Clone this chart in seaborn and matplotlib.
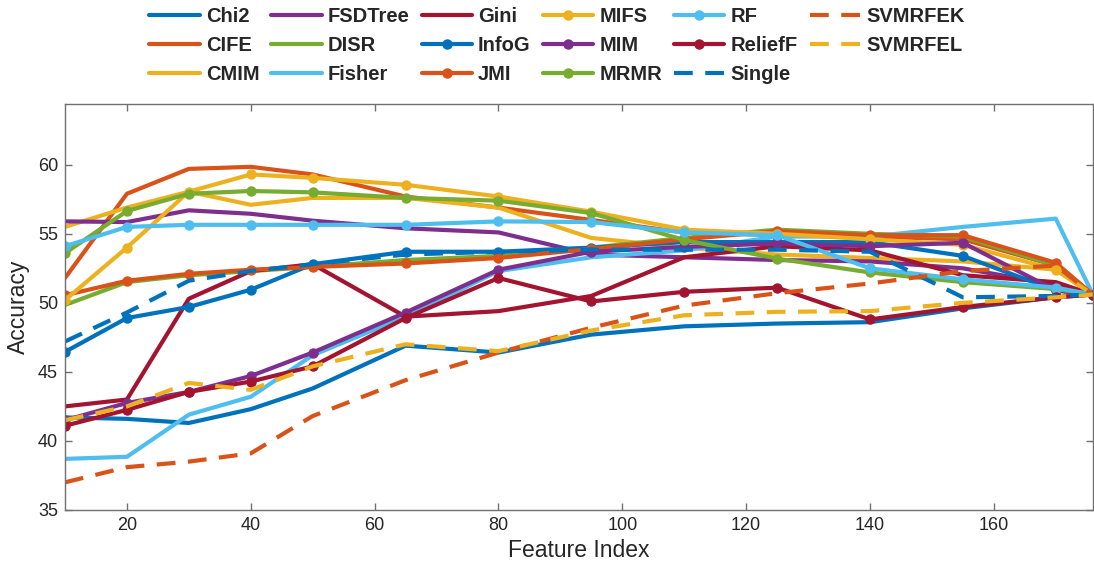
import matplotlib
matplotlib.use("Agg")
import matplotlib.pyplot as plt
import seaborn as sns
import pandas as pd

# Number of selected features at each evaluation step
feature_index = [10, 20, 30, 40, 50, 65, 80, 95, 110, 125, 140, 155, 170, 176]

# Classification accuracy (%) of each feature-selection method
chi2     = [41.7, 41.6, 41.3, 42.3, 43.8, 46.9, 46.4, 47.7, 48.3, 48.5, 48.6, 49.6, 50.4, 50.6]
cife     = [51.8, 57.9, 59.7, 59.85, 59.3, 57.7, 56.9, 56.0, 55.1, 54.9, 54.8, 54.6, 52.7, 50.6]
cmim     = [55.5, 56.9, 58.05, 57.1, 57.6, 57.6, 56.9, 54.7, 54.0, 53.5, 53.25, 53.0, 52.4, 50.6]
fsdtree  = [55.9, 55.85, 56.7, 56.45, 55.95, 55.4, 55.1, 53.5, 53.3, 53.1, 53.0, 52.5, 51.3, 50.6]
disr     = [49.85, 51.5, 52.0, 52.3, 52.6, 53.1, 53.4, 54.0, 54.7, 55.3, 55.0, 54.8, 52.7, 50.6]
fisher   = [38.7, 38.85, 41.9, 43.2, 46.2, 49.0, 52.3, 53.3, 53.8, 54.8, 54.8, 55.5, 56.1, 50.6]
gini     = [42.5, 43.0, 50.3, 52.3, 52.8, 49.0, 49.4, 50.5, 53.3, 54.1, 53.8, 52.0, 51.5, 50.6]
infog    = [46.45, 48.9, 49.7, 50.95, 52.8, 53.7, 53.7, 54.0, 54.4, 54.4, 54.4, 53.4, 50.9, 50.6]
jmi      = [50.55, 51.6, 52.1, 52.4, 52.6, 52.85, 53.25, 53.9, 54.6, 55.2, 54.9, 54.9, 52.9, 50.6]
mifs     = [50.2, 54.0, 58.05, 59.3, 59.05, 58.55, 57.7, 56.6, 55.3, 55.0, 54.6, 54.2, 52.4, 50.6]
mim      = [41.5, 42.75, 43.55, 44.7, 46.4, 49.3, 52.4, 53.7, 54.05, 54.3, 54.1, 54.35, 50.9, 50.6]
mrmr     = [53.6, 56.65, 57.9, 58.1, 58.0, 57.6, 57.4, 56.5, 54.55, 53.2, 52.2, 51.5, 51.0, 50.6]
rf       = [54.1, 55.5, 55.65, 55.65, 55.65, 55.65, 55.9, 55.85, 55.1, 54.9, 52.5, 51.7, 51.1, 50.6]
relieff  = [41.1, 42.25, 43.55, 44.3, 45.4, 48.9, 51.8, 50.1, 50.8, 51.1, 48.8, 49.7, 50.4, 50.6]
single   = [47.2, 49.3, 51.6, 52.3, 52.8, 53.5, 53.7, 53.85, 53.85, 53.85, 53.7, 50.4, 50.5, 50.6]
svmrfek  = [37.0, 38.1, 38.5, 39.1, 41.8, 44.4, 46.4, 48.2, 49.8, 50.7, 51.4, 52.3, 52.7, 50.6]
svmrfel  = [41.5, 42.5, 44.2, 43.7, 45.4, 47.0, 46.5, 48.0, 49.1, 49.35, 49.4, 50.0, 50.4, 50.6]

method_names = ["Chi2", "CIFE", "CMIM", "FSDTree", "DISR", "Fisher", "Gini", "InfoG",
                "JMI", "MIFS", "MIM", "MRMR", "RF", "ReliefF", "Single", "SVMRFEK", "SVMRFEL"]
method_values = [chi2, cife, cmim, fsdtree, disr, fisher, gini, infog,
                 jmi, mifs, mim, mrmr, rf, relieff, single, svmrfek, svmrfel]

# MATLAB-like default colour order
blue, orange, yellow, purple = "#0072BD", "#D95319", "#EDB120", "#7E2F8E"
green, cyan, red = "#77AC30", "#4DBEEE", "#A2142F"

styles = {
    "Chi2":    (blue,   None, "solid"),
    "CIFE":    (orange, None, "solid"),
    "CMIM":    (yellow, None, "solid"),
    "FSDTree": (purple, None, "solid"),
    "DISR":    (green,  None, "solid"),
    "Fisher":  (cyan,   None, "solid"),
    "Gini":    (red,    None, "solid"),
    "InfoG":   (blue,   "o",  "solid"),
    "JMI":     (orange, "o",  "solid"),
    "MIFS":    (yellow, "o",  "solid"),
    "MIM":     (purple, "o",  "solid"),
    "MRMR":    (green,  "o",  "solid"),
    "RF":      (cyan,   "o",  "solid"),
    "ReliefF": (red,    "o",  "solid"),
    "Single":  (blue,   None, "dashed"),
    "SVMRFEK": (orange, None, "dashed"),
    "SVMRFEL": (yellow, None, "dashed"),
}

sns.set_style("ticks")
plt.rcParams["font.family"] = ["Liberation Sans", "DejaVu Sans"]

fig = plt.figure(figsize=(10.94, 5.73), dpi=100)
ax = fig.add_axes([0.0594, 0.110, 0.9396, 0.7085])

for name, vals in zip(method_names, method_values):
    color, marker, ls = styles[name]
    df = pd.DataFrame({"Feature Index": feature_index, "Accuracy": vals})
    sns.lineplot(data=df, x="Feature Index", y="Accuracy", ax=ax, color=color,
                 marker=marker, markersize=7.5, markeredgewidth=0,
                 linewidth=3.0, label=name, sort=False)
    line = ax.lines[-1]
    if ls == "dashed":
        line.set_dashes((4.5, 3.0))

ax.set_xlim(10, 176)
ax.set_ylim(35, 64.4)
ax.set_xticks([20, 40, 60, 80, 100, 120, 140, 160])
ax.set_yticks([35, 40, 45, 50, 55, 60])

spine_color = "#707070"
for s in ax.spines.values():
    s.set_visible(True)
    s.set_color(spine_color)
    s.set_linewidth(1.0)
ax.tick_params(direction="in", length=5, width=1, color=spine_color,
               top=True, right=True, labelsize=13, labelcolor="#262626", pad=5)

ax.set_xlabel("Feature Index", fontsize=16.5, color="#262626", labelpad=4)
ax.set_ylabel("Accuracy", fontsize=16.5, color="#262626", labelpad=6)

handles, labels = ax.get_legend_handles_labels()
ax.legend(handles, labels, ncol=6, loc="center", bbox_to_anchor=(0.509, 0.921),
          bbox_transform=fig.transFigure, frameon=False,
          prop={"weight": "bold", "size": 14.5}, handlelength=2.5,
          handletextpad=0.3, columnspacing=0.6, labelspacing=0.5,
          borderaxespad=0)

fig.savefig("out.png", dpi=100)
